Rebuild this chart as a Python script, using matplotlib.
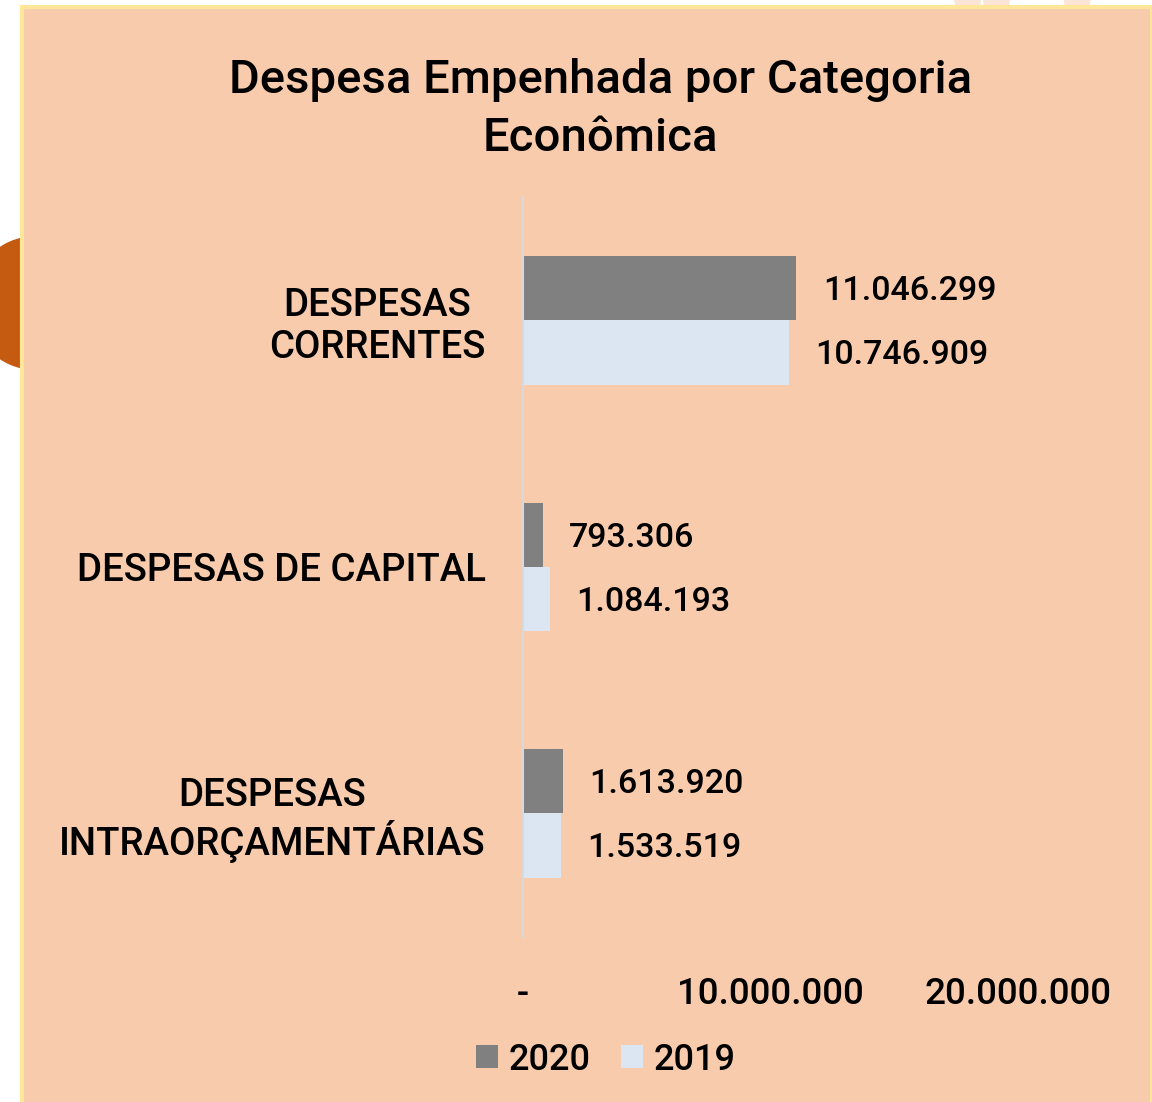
import matplotlib.pyplot as plt
import matplotlib.patches as mpatches
from matplotlib.ticker import FuncFormatter

categories = ["DESPESAS\nCORRENTES", "DESPESAS DE CAPITAL", "DESPESAS\nINTRAORÇAMENTÁRIAS"]
vals_2020 = [11046299, 793306, 1613920]
vals_2019 = [10746909, 1084193, 1533519]
ticks = [0, 10000000, 20000000]

plt.rcParams['font.family'] = ['Roboto', 'DejaVu Sans']

def fmt(v, pos=None):
    if v == 0:
        return "-"
    return f"{int(v):,}".replace(",", ".")

fig = plt.figure(figsize=(11.52, 11.02), dpi=100)
fig.patch.set_facecolor("white")

# decoracao de fundo
fig.patches.append(mpatches.Ellipse((0.03, 0.725), 0.11, 0.12, transform=fig.transFigure,
                                    color="#c55a11", zorder=-3))
for cx in [0.84, 0.865, 0.935]:
    fig.patches.append(mpatches.Ellipse((cx, 1.0), 0.022, 0.024, transform=fig.transFigure,
                                        color="#fbe5d6", zorder=-3))
fig.patches.append(mpatches.Rectangle((0.019, -0.01), 0.981, 1.004, transform=fig.transFigure,
                                      fc="#f8cbad", ec="#ffe699", lw=3, zorder=-2))

ax = fig.add_axes([0.454, 0.150, 0.537, 0.671])
ax.set_facecolor("none")

y = range(len(categories))
h = 0.26
ax.barh([i - h / 2 for i in y], vals_2020, height=h, color="#808080", label="2020")
ax.barh([i + h / 2 for i in y], vals_2019, height=h, color="#dce6f2", label="2019")

for i in y:
    ax.annotate(fmt(vals_2020[i]), (vals_2020[i], i - h / 2), xytext=(19, -2),
                textcoords="offset points", va="center", ha="left",
                fontsize=24.5, fontweight="medium")
    ax.annotate(fmt(vals_2019[i]), (vals_2019[i], i + h / 2), xytext=(19, -2),
                textcoords="offset points", va="center", ha="left",
                fontsize=24.5, fontweight="medium")

ax.set_xlim(0, 25000000)
ax.set_ylim(2.5, -0.5)
ax.set_xticks(ticks)
ax.xaxis.set_major_formatter(FuncFormatter(fmt))
ax.set_yticks(list(y))
ax.set_yticklabels(categories, multialignment="center", linespacing=1.15)
ax.tick_params(axis="x", length=0, pad=29, labelsize=26.5)
ax.tick_params(axis="y", length=0, pad=27, labelsize=27.6)
for lab in ax.get_xticklabels() + ax.get_yticklabels():
    lab.set_fontweight("medium")
for s in ["top", "right", "bottom"]:
    ax.spines[s].set_visible(False)
ax.spines["left"].set_color("#d9d9d9")
ax.spines["left"].set_linewidth(1.5)

fig.text(0.521, 0.901, "Despesa Empenhada por Categoria\nEconômica", ha="center", va="center",
         fontsize=34, fontweight="medium", linespacing=1.4)

fig.legend(loc="center", bbox_to_anchor=(0.526, 0.038), ncol=2, frameon=False,
           handlelength=0.6, handleheight=0.6, handletextpad=0.3,
           columnspacing=0.85, prop={"weight": "medium", "size": 26})

fig.savefig("out.png", dpi=100)
